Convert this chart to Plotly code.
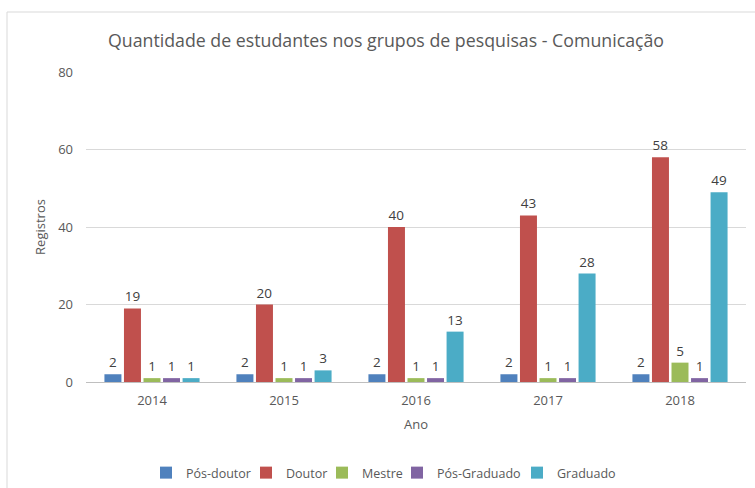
import plotly.graph_objects as go

anos = ["2014", "2015", "2016", "2017", "2018"]
series_names = ["Pós-doutor", "Doutor", "Mestre", "Pós-Graduado", "Graduado"]
pos_doutor = [2, 2, 2, 2, 2]
doutor = [19, 20, 40, 43, 58]
mestre = [1, 1, 1, 1, 5]
pos_graduado = [1, 1, 1, 1, 1]
graduado = [1, 3, 13, 28, 49]
colors = ["#4F81BD", "#C0504D", "#9BBB59", "#8064A2", "#4BACC6"]
legend_widths = [55, 31, 30, 75, 70]

FONT = "Open Sans"
values = [pos_doutor, doutor, mestre, pos_graduado, graduado]

fig = go.Figure()
for name, vals, c, lw in zip(series_names, values, colors, legend_widths):
    fig.add_trace(go.Bar(
        x=anos, y=vals, name=name, marker=dict(color=c, line=dict(width=0)),
        text=[str(v) for v in vals], textposition="outside",
        textfont=dict(family=FONT, size=13.5, color="#404040"),
        cliponaxis=False, legendwidth=lw,
    ))

L, R, T, B = 86, 9, 72, 106
W, H = 755, 488
pw, ph = W - L - R, H - T - B

def px2x(px):
    return (px - L) / pw

def py2y(py):
    return (H - B - py) / ph

fig.update_layout(
    width=W, height=H,
    margin=dict(l=L, r=R, t=T, b=B, autoexpand=False),
    paper_bgcolor="white", plot_bgcolor="white",
    barmode="group", bargap=0.26, bargroupgap=0.13,
    font=dict(family=FONT, color="#595959", size=13),
    title=dict(text="Quantidade de estudantes nos grupos de pesquisas - Comunicação",
               xref="container", x=386 / W, xanchor="center",
               yref="container", y=1 - 41 / H, yanchor="middle",
               font=dict(family=FONT, size=17.75, color="#595959")),
    xaxis=dict(showgrid=False, showline=True, linecolor="#BFBFBF", linewidth=1,
               ticks="", ticklabelstandoff=6, tickfont=dict(size=13, color="#595959"),
               title=dict(text="Ano", font=dict(size=13, color="#595959"), standoff=12)),
    yaxis=dict(range=[0, 80], dtick=20, showgrid=True, gridcolor="#D9D9D9", gridwidth=1,
               zeroline=False, showline=False, ticks="", ticklabelstandoff=12,
               tickfont=dict(size=13, color="#595959"),
               title=dict(text="Registros", font=dict(size=13, color="#595959"), standoff=9)),
    legend=dict(orientation="h", xref="container", yref="container",
                x=146 / W, xanchor="left", y=1 - 473 / H, yanchor="middle",
                font=dict(size=12.5, color="#595959"), itemwidth=30, traceorder="normal"),
    showlegend=True,
)

fig.add_shape(type="line", xref="paper", yref="paper",
              x0=px2x(7), x1=px2x(756), y0=py2y(12), y1=py2y(12),
              line=dict(color="#D9D9D9", width=1))
fig.add_shape(type="line", xref="paper", yref="paper",
              x0=px2x(7), x1=px2x(7), y0=py2y(12), y1=py2y(490),
              line=dict(color="#D9D9D9", width=1))

fig.write_html("out.html", config={"displayModeBar": False},
               post_script="document.body.style.margin='0';")
